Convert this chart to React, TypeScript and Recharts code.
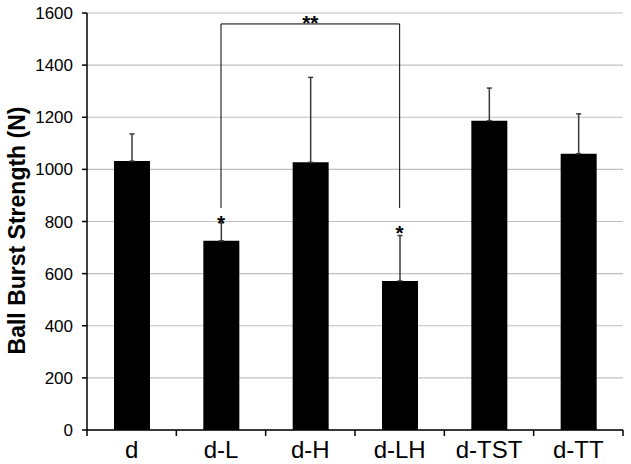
import React from 'react';
import {
  BarChart,
  Bar,
  XAxis,
  YAxis,
  CartesianGrid,
  ErrorBar,
  ReferenceLine,
  ReferenceDot,
  Label,
} from 'recharts';

const categories = ['d', 'd-L', 'd-H', 'd-LH', 'd-TST', 'd-TT'];
const means = [1032, 726, 1027, 572, 1187, 1060];
const upperErrors = [104, 69, 326, 174, 125, 153];
const yTicks = [0, 200, 400, 600, 800, 1000, 1200, 1400, 1600];
const yLabel = 'Ball Burst Strength (N)';

// significance annotations
const bracketFrom = 'd-L';
const bracketTo = 'd-LH';
const bracketTop = 1558;
const bracketBottom = 852;
const bracketLabelCategory = 'd-H';
const bracketLabel = '**';
const bracketLabelValue = 1579;
const starCategories = ['d-L', 'd-LH'];
const starValues = [813, 775];

const data = categories.map((c, i) => ({
  name: c,
  value: means[i],
  err: [0, upperErrors[i]],
}));

const FONT = '"Liberation Sans", Arial, sans-serif';

const StarShape = (label: string) => (p: any) => (
  <text
    x={p.cx}
    y={p.cy + 12}
    textAnchor="middle"
    fontFamily={FONT}
    fontWeight="bold"
    fontSize={21}
    fill="#000"
  >
    {label}
  </text>
);

const XTick = (props: any) => {
  const { x, y, payload, index } = props;
  const half = payload && payload.offset ? payload.offset : 536 / 12;
  const axisY = y - 6;
  return (
    <g>
      <line x1={x - half} x2={x - half} y1={axisY} y2={axisY + 6} stroke="#000" strokeWidth={1.5} />
      {index === categories.length - 1 && (
        <line x1={x + half} x2={x + half} y1={axisY} y2={axisY + 6} stroke="#000" strokeWidth={1.5} />
      )}
      <text x={x} y={axisY + 28} textAnchor="middle" fontFamily={FONT} fontSize={24} fill="#000">
        {payload.value}
      </text>
    </g>
  );
};

const YLabelContent = (props: any) => {
  const vb = props.viewBox || { x: 0, y: 13, width: 87, height: 417 };
  const cx = vb.x + 25;
  const cy = vb.y + vb.height / 2 + 9;
  return (
    <text
      x={cx}
      y={cy}
      transform={`rotate(-90, ${cx}, ${cy})`}
      textAnchor="middle"
      fontFamily={FONT}
      fontWeight="bold"
      fontSize={23}
      fill="#000"
    >
      {yLabel}
    </text>
  );
};

export default function App() {
  return (
    <div style={{ position: 'absolute', left: 0, top: 0, background: '#fff' }}>
      <BarChart
        width={631}
        height={464}
        data={data}
        margin={{ top: 13, right: 8, left: 0, bottom: 0 }}
        barCategoryGap={0}
      >
        <CartesianGrid vertical={false} stroke="#c0c0c0" strokeWidth={1.2} />
        <XAxis
          dataKey="name"
          height={34}
          tickLine={false}
          tickSize={6}
          tickMargin={0}
          axisLine={{ stroke: '#000', strokeWidth: 1.5 }}
          tick={<XTick />}
          interval={0}
        />
        <YAxis
          width={87}
          domain={[0, 1600]}
          ticks={yTicks}
          interval={0}
          tickSize={5}
          tickMargin={9}
          axisLine={{ stroke: '#000', strokeWidth: 1.5 }}
          tickLine={{ stroke: '#000', strokeWidth: 1.5 }}
          tick={{ fontFamily: FONT, fontSize: 17, fill: '#000' }}
        >
          <Label content={<YLabelContent />} />
        </YAxis>
        <Bar dataKey="value" fill="#000" barSize={36} isAnimationActive={false}>
          <ErrorBar dataKey="err" direction="y" width={2.5} stroke="#3a3a3a" strokeWidth={1.5} />
        </Bar>
        <ReferenceLine
          segment={[{ x: bracketFrom, y: bracketTop }, { x: bracketTo, y: bracketTop }]}
          stroke="#000"
          strokeWidth={1}
          ifOverflow="visible"
        />
        <ReferenceLine
          segment={[{ x: bracketFrom, y: bracketTop }, { x: bracketFrom, y: bracketBottom }]}
          stroke="#000"
          strokeWidth={1}
          ifOverflow="visible"
        />
        <ReferenceLine
          segment={[{ x: bracketTo, y: bracketTop }, { x: bracketTo, y: bracketBottom }]}
          stroke="#000"
          strokeWidth={1}
          ifOverflow="visible"
        />
        <ReferenceDot
          x={bracketLabelCategory}
          y={bracketLabelValue}
          r={0}
          ifOverflow="visible"
          shape={StarShape(bracketLabel)}
        />
        {starCategories.map((c, i) => (
          <ReferenceDot
            key={c}
            x={c}
            y={starValues[i]}
            r={0}
            ifOverflow="visible"
            shape={StarShape('*')}
          />
        ))}
      </BarChart>
    </div>
  );
}
